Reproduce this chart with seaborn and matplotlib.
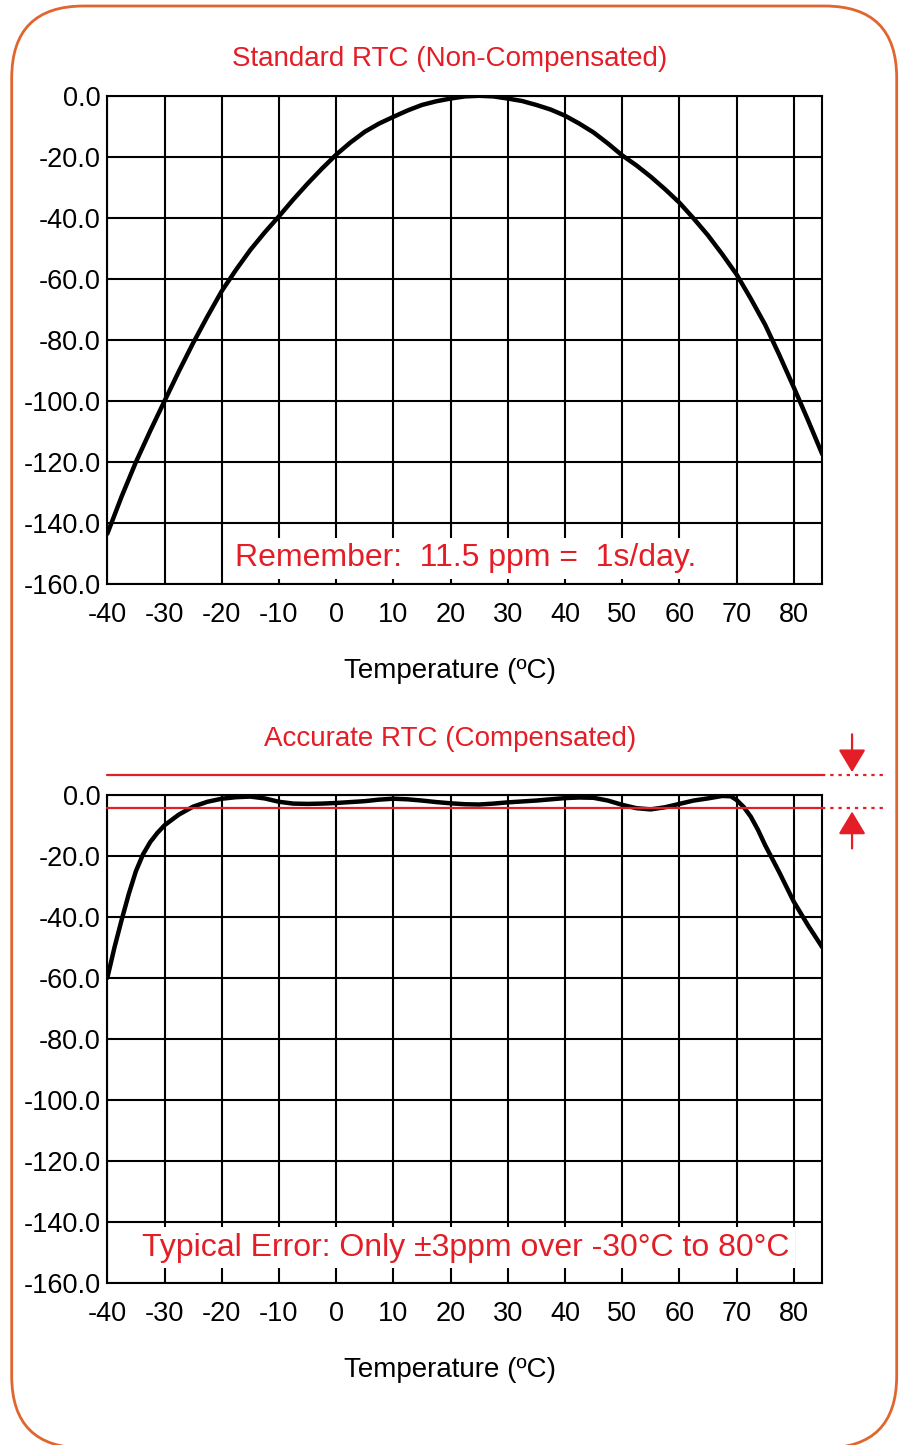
import numpy as np
import pandas as pd
import matplotlib
matplotlib.use("Agg")
import matplotlib.pyplot as plt
import seaborn as sns
from matplotlib.patches import FancyBboxPatch

# ---------------- data ----------------
temp_std = [-40, -37.5, -35, -32.5, -30, -27.5, -25, -22.5, -20, -17.5, -15,
            -12.5, -10, -7.5, -5, -2.5, 0, 2.5, 5, 7.5, 10, 12.5, 15, 17.5,
            20, 22.5, 25, 27.5, 30, 32.5, 35, 37.5, 40, 42.5, 45, 47.5, 50,
            52.5, 55, 57.5, 60, 62.5, 65, 67.5, 70, 72.5, 75, 77.5, 80, 82.5,
            85]
ppm_std = [-143.5, -131.3, -120.0, -109.8, -100.0, -90.3, -81.0, -72.3, -64.0,
           -57.0, -50.5, -44.8, -39.5, -34.0, -28.8, -23.9, -19.3, -15.3,
           -11.8, -9.1, -6.9, -4.8, -3.0, -1.8, -0.9, -0.2, 0.0, -0.2, -0.9,
           -1.7, -3.0, -4.5, -6.5, -9.1, -12.0, -15.6, -19.5, -22.8, -26.5,
           -30.6, -35.0, -40.2, -45.7, -51.9, -58.5, -66.5, -75.0, -85.0,
           -95.5, -106.3, -117.5]

temp_cmp = [-40, -38.75, -37.5, -36.25, -35, -33.75, -32.5, -31.25, -30,
            -27.5, -25, -22.5, -20, -17.5, -15, -12.5, -10, -7.5, -5, -2.5,
            0, 2.5, 5, 7.5, 10, 12.5, 15, 17.5, 20, 22.5, 25, 27.5, 30, 32.5,
            35, 37.5, 40, 42.5, 45, 47.5, 50, 52.5, 55, 57.5, 60, 62.5, 65,
            67.5, 69, 70, 71.25, 72.5, 73.75, 75, 77.5, 80, 82.5, 85]
ppm_cmp = [-60.0, -50.0, -41.0, -32.5, -25.0, -19.5, -15.5, -12.5, -10.0,
           -6.5, -3.9, -2.3, -1.3, -0.8, -0.6, -1.2, -2.3, -2.9, -3.0, -2.9,
           -2.7, -2.4, -2.1, -1.6, -1.3, -1.5, -1.9, -2.4, -2.8, -3.1, -3.2,
           -2.9, -2.5, -2.2, -1.9, -1.5, -1.1, -0.9, -1.0, -1.9, -3.3, -4.4,
           -4.8, -4.1, -3.0, -1.9, -1.2, -0.4, -0.5, -1.7, -4.0, -7.2, -11.5,
           -16.5, -25.5, -35.0, -42.8, -50.0]

x_ticks = [-40, -30, -20, -10, 0, 10, 20, 30, 40, 50, 60, 70, 80]
y_ticks = [0, -20, -40, -60, -80, -100, -120, -140, -160]

limit_upper = 6.6
limit_lower = -4.5

title_std = "Standard RTC (Non-Compensated)"
title_cmp = "Accurate RTC (Compensated)"
note_std = "Remember:  11.5 ppm =  1s/day."
note_cmp = "Typical Error: Only \u00b13ppm over -30\u00b0C to 80\u00b0C"
x_label = "Temperature (\u00baC)"

# ---------------- style ----------------
sns.set_style("white")
plt.rcParams['font.family'] = ['Liberation Sans', 'DejaVu Sans']
plt.rcParams['axes.unicode_minus'] = False
plt.rcParams['text.color'] = 'black'
plt.rcParams['axes.labelcolor'] = 'black'
plt.rcParams['xtick.color'] = 'black'
plt.rcParams['ytick.color'] = 'black'

RED = "#E31E26"
ORANGE = "#E0652E"

fig = plt.figure(figsize=(8.99, 14.45), dpi=100)

ax1 = fig.add_axes([0.1194, 0.5958, 0.7953, 0.3379])
ax2 = fig.add_axes([0.1194, 0.1121, 0.7953, 0.3379])

df_std = pd.DataFrame({"temp": temp_std, "ppm": ppm_std})
df_cmp = pd.DataFrame({"temp": temp_cmp, "ppm": ppm_cmp})

for ax, df in [(ax1, df_std), (ax2, df_cmp)]:
    ax.set_xlim(-40, 85)
    ax.set_ylim(-160, 0)
    ax.set_xticks(x_ticks)
    ax.set_xticklabels([str(v) for v in x_ticks])
    ax.set_yticks(y_ticks)
    ax.set_yticklabels([f"{abs(v):.1f}" if v == 0 else f"{v:.1f}" for v in y_ticks])
    ax.grid(True, color="black", linewidth=1.5)
    ax.set_axisbelow(True)
    ax.tick_params(axis="x", length=0, pad=13, labelsize=19.5, labelcolor="black")
    ax.tick_params(axis="y", length=0, pad=5, labelsize=19.5, labelcolor="black")
    for s in ax.spines.values():
        s.set_color("black")
        s.set_linewidth(1.5)
    sns.lineplot(data=df, x="temp", y="ppm", ax=ax, color="black",
                 linewidth=3.2, zorder=3, sort=False)
    ax.set_xlabel(x_label, fontsize=20, color="black")
    ax.xaxis.set_label_coords(0.479, -0.152)
    ax.set_ylabel("")

ax1.text(22.6, -151.5, note_std, color=RED, fontsize=23, ha="center",
         va="center", zorder=5,
         bbox=dict(facecolor="white", edgecolor="none", pad=4))
ax2.text(22.6, -148.5, note_cmp, color=RED, fontsize=23, ha="center",
         va="center", zorder=5,
         bbox=dict(facecolor="white", edgecolor="none", pad=4))

fig.text(450 / 899, 1 - 59 / 1445, title_std, color=RED, fontsize=20,
         ha="center", va="center")
fig.text(450 / 899, 1 - 739 / 1445, title_cmp, color=RED, fontsize=20,
         ha="center", va="center")

# tolerance band lines
for lvl in (limit_upper, limit_lower):
    ax2.axhline(lvl, color=RED, linewidth=1.6, clip_on=False, zorder=4)
    ax2.plot([85, 96.1], [lvl, lvl], color=RED, linewidth=1.6,
             linestyle=(0, (1.5, 2.2)), clip_on=False, zorder=4)

arrow_style = "-|>,head_length=1.0,head_width=0.6"
ax2.annotate("", xy=(90.2, 7.4), xytext=(90.2, 19.8),
             arrowprops=dict(arrowstyle=arrow_style, color=RED, lw=1.6,
                             mutation_scale=14, shrinkA=0, shrinkB=0),
             annotation_clip=False)
ax2.annotate("", xy=(90.2, -5.5), xytext=(90.2, -17.6),
             arrowprops=dict(arrowstyle=arrow_style, color=RED, lw=1.6,
                             mutation_scale=14, shrinkA=0, shrinkB=0),
             annotation_clip=False)

# rounded orange frame
frame = FancyBboxPatch((0.117, -0.03), 8.85, 14.42,
                       boxstyle="round,pad=0,rounding_size=0.72",
                       transform=fig.dpi_scale_trans, facecolor="none",
                       edgecolor=ORANGE, linewidth=2.0, zorder=0)
fig.add_artist(frame)

fig.savefig("out.png", dpi=100)
